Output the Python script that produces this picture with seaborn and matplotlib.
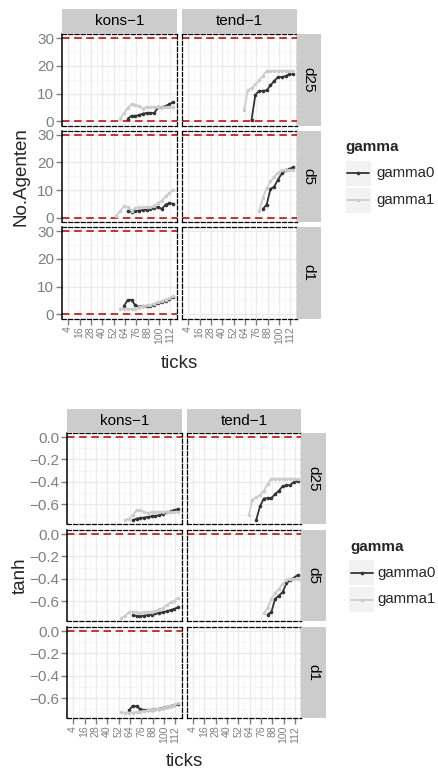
import numpy as np
import pandas as pd
import matplotlib
matplotlib.use('Agg')
import matplotlib.pyplot as plt
import seaborn as sns
from matplotlib.patches import Rectangle
from matplotlib.lines import Line2D

W, H = 438, 771
sns.set_theme(style='white')
plt.rcParams['font.family'] = ['Liberation Sans', 'DejaVu Sans']

# ---------------- data ----------------
TICKS = [55, 59, 63, 67, 71, 75, 79, 83, 87, 91, 95, 99, 103, 107, 111, 115]
N = None
COLS = ['kons\u22121', 'tend\u22121']
ROWS = ['d25', 'd5', 'd1']
GAMMAS = ['gamma0', 'gamma1']
XTICKS = [4, 16, 28, 40, 52, 64, 76, 88, 100, 112]

# No.Agenten
ag_kons_d25_g0 = [N, N, N, 1, 2, 2, 2.2, 2.8, 3, 3, 3, 5, 5, 5.5, 6.2, 7]
ag_kons_d25_g1 = [N, 1, 2.9, 4.9, 6.2, 6.0, 5.4, 4.6, 5.2, 5.1, 5.1, 5.0, 5.0, 5.0, 5.0, 5.0]
ag_tend_d25_g0 = [N, N, N, N, 0.5, 9.5, 11, 11, 11.2, 13, 14.6, 16, 16, 16.3, 17, 17]
ag_tend_d25_g1 = [N, N, 4, 11.2, 12, 13.3, 14.8, 16.5, 18.2, 18.2, 18.2, 18.2, 18.2, 18.2, 18.2, 18.2]
ag_kons_d5_g0 = [N, N, N, 2.4, 2.2, 2.4, 2.6, 2.8, 3.0, 3.2, 3.4, 4.0, 3.2, 4.8, 5.3, 5.1]
ag_kons_d5_g1 = [0.8, 2.5, 4.2, 4.0, 2.6, 3.4, 3.8, 3.8, 3.8, 3.8, 4.4, 5.4, 6.2, 7.8, 8.8, 10.2]
ag_tend_d5_g0 = [N, N, N, N, N, N, N, 3.2, 4.8, 10.4, 11.3, 13.8, 16.0, 17.1, 17.6, 18.3]
ag_tend_d5_g1 = [N, N, N, N, N, N, 2.3, 7.3, 10.7, 13.2, 14.8, 16.3, 17.1, 17.1, 17.1, 17.1]
ag_kons_d1_g0 = [N, N, 3, 5.2, 5.2, 3.2, 2.8, 3, 3, 3, 3.5, 4, 4.4, 4.8, 5.5, 6.3]
ag_kons_d1_g1 = [N, 2, 2, 2, 2, 2, 2.5, 2.9, 3.2, 3.5, 3.9, 4.3, 4.8, 5.3, 5.8, 6.5]

# tanh
th_kons_d25_g0 = [N, N, N, -0.745, -0.73, -0.725, -0.72, -0.715, -0.71, -0.705, -0.70, -0.685, -0.675, -0.665, -0.655, -0.642]
th_kons_d25_g1 = [N, -0.74, -0.73, -0.70, -0.655, -0.655, -0.67, -0.68, -0.67, -0.668, -0.668, -0.668, -0.668, -0.67, -0.672, -0.672]
th_tend_d25_g0 = [N, N, N, N, -0.74, -0.62, -0.55, -0.546, -0.546, -0.51, -0.48, -0.44, -0.433, -0.43, -0.40, -0.397]
th_tend_d25_g1 = [N, N, -0.70, -0.56, -0.54, -0.52, -0.48, -0.42, -0.373, -0.373, -0.373, -0.373, -0.373, -0.373, -0.373, -0.373]
th_kons_d5_g0 = [N, N, N, -0.72, -0.735, -0.735, -0.73, -0.725, -0.72, -0.71, -0.705, -0.70, -0.69, -0.68, -0.67, -0.655]
th_kons_d5_g1 = [-0.75, -0.73, -0.70, -0.695, -0.70, -0.705, -0.70, -0.695, -0.695, -0.69, -0.675, -0.66, -0.635, -0.61, -0.595, -0.575]
th_tend_d5_g0 = [N, N, N, N, N, N, N, -0.72, -0.70, -0.58, -0.55, -0.52, -0.44, -0.41, -0.39, -0.366]
th_tend_d5_g1 = [N, N, N, N, N, N, -0.71, -0.66, -0.58, -0.53, -0.49, -0.445, -0.41, -0.40, -0.40, -0.40]
th_kons_d1_g0 = [N, N, -0.71, -0.668, -0.674, -0.70, -0.705, -0.705, -0.704, -0.70, -0.695, -0.687, -0.68, -0.67, -0.662, -0.655]
th_kons_d1_g1 = [-0.725, -0.73, -0.73, -0.73, -0.725, -0.72, -0.715, -0.71, -0.705, -0.70, -0.695, -0.69, -0.68, -0.67, -0.66, -0.645]

AG_HLINES = [0, 30]
TH_HLINES = [0.0]

ag_panels = {
    (0, 0): (ag_kons_d25_g0, ag_kons_d25_g1), (0, 1): (ag_tend_d25_g0, ag_tend_d25_g1),
    (1, 0): (ag_kons_d5_g0, ag_kons_d5_g1), (1, 1): (ag_tend_d5_g0, ag_tend_d5_g1),
    (2, 0): (ag_kons_d1_g0, ag_kons_d1_g1), (2, 1): None,
}
th_panels = {
    (0, 0): (th_kons_d25_g0, th_kons_d25_g1), (0, 1): (th_tend_d25_g0, th_tend_d25_g1),
    (1, 0): (th_kons_d5_g0, th_kons_d5_g1), (1, 1): (th_tend_d5_g0, th_tend_d5_g1),
    (2, 0): (th_kons_d1_g0, th_kons_d1_g1), (2, 1): None,
}

PALETTE = {'gamma0': '#333333', 'gamma1': '#cccccc'}
GREY = '#7f7f7f'
RED = '#b81414'

fig = plt.figure(figsize=(W / 100, H / 100), dpi=100)


def ax_at(x0, y0, x1, y1, **kw):
    return fig.add_axes([x0 / W, 1 - y1 / H, (x1 - x0) / W, (y1 - y0) / H], **kw)


def strip(x0, y0, x1, y1, label, rot=0):
    sa = ax_at(x0, y0, x1, y1)
    sa.set_facecolor('#cccccc')
    for s in sa.spines.values():
        s.set_visible(False)
    sa.set_xticks([]); sa.set_yticks([])
    sa.text(0.5, 0.5, label, transform=sa.transAxes, ha='center', va='center',
            fontsize=11, rotation=rot, color='black')


def draw_facets(panels, cols_px, strip_y, rows_px, rstrip_x, ylim, yticks, yminor,
                yticklabels, hlines):
    for r, (y0, y1) in enumerate(rows_px):
        for c, (x0, x1) in enumerate(cols_px):
            ax = ax_at(x0, y0, x1, y1)
            ax.set_facecolor('white')
            ax.set_axisbelow(True)
            ax.set_xlim(-2.5, 118.5)
            ax.set_ylim(*ylim)
            ax.set_xticks(XTICKS)
            ax.set_xticks([10, 22, 34, 46, 58, 70, 82, 94, 106, 118], minor=True)
            ax.set_yticks(yticks)
            ax.set_yticks(yminor, minor=True)
            ax.grid(which='major', color='#ebebeb', lw=1.0)
            ax.grid(which='minor', color='#f5f5f5', lw=0.6)
            pdata = panels[(r, c)]
            if pdata is not None:
                recs = []
                for g, vals in zip(GAMMAS, pdata):
                    for x, v in zip(TICKS, vals):
                        if v is not None:
                            recs.append({'ticks': x, 'value': v, 'gamma': g})
                df = pd.DataFrame(recs)
                for hv in hlines:
                    ax.axhline(hv, color=RED, lw=1.2, ls=(0, (4.5, 2.8)), zorder=1.5)
                sns.lineplot(data=df, x='ticks', y='value', hue='gamma', hue_order=GAMMAS,
                             palette=PALETTE, marker='o', markersize=2.6,
                             markeredgewidth=0, linewidth=1.3, legend=False,
                             errorbar=None, ax=ax)
            ax.set_xlabel(''); ax.set_ylabel('')
            for s in ax.spines.values():
                s.set_visible(True)
                s.set_color('black')
                s.set_linewidth(0.9)
                s.set_linestyle((0, (3.2, 1.8)))
            if c == 0:
                ax.spines['left'].set_linestyle('-')
                ax.spines['left'].set_linewidth(1.1)
            ax.tick_params(axis='both', which='minor', length=0)
            ax.tick_params(axis='y', which='major', length=4, width=1, color=GREY,
                           labelsize=11, labelcolor=GREY, pad=1.5,
                           left=(c == 0), labelleft=(c == 0))
            if c == 0:
                ax.set_yticklabels(yticklabels)
            ax.tick_params(axis='x', which='major', length=4, width=1, color=GREY,
                           labelsize=7.6, labelcolor=GREY, pad=1.5,
                           bottom=(r == 2), labelbottom=(r == 2))
            if r == 2:
                ax.set_xticklabels([str(t) for t in XTICKS], rotation=90)
            if r == 0:
                strip(x0, strip_y[0], x1, strip_y[1], COLS[c])
        strip(rstrip_x[0], y0, rstrip_x[1], y1, ROWS[r], rot=-90)


# Top facet grid (No.Agenten)
draw_facets(ag_panels, [(62, 176.5), (182, 296.5)], (9, 33.5),
            [(34, 125.5), (130.5, 222), (227, 318.5)], (296.5, 321),
            (-1.5, 31.5), [0, 10, 20, 30], [5, 15, 25], ['0', '10', '20', '30'], AG_HLINES)

# Bottom facet grid (tanh)
draw_facets(th_panels, [(67, 181.5), (187, 301)], (409, 433),
            [(433, 524), (530, 621), (627, 718)], (301, 325.7),
            (-0.778, 0.037), [0.0, -0.2, -0.4, -0.6], [-0.1, -0.3, -0.5, -0.7],
            ['0.0', '\u22120.2', '\u22120.4', '\u22120.6'], TH_HLINES)

# overlay for titles and legends
ov = fig.add_axes([0, 0, 1, 1], facecolor='none')
ov.set_xlim(0, W); ov.set_ylim(H, 0); ov.axis('off')

ov.text(21.5, 176.5, 'No.Agenten', rotation=90, ha='center', va='center', fontsize=13.5)
ov.text(179, 368, 'ticks', ha='center', va='baseline', fontsize=13.5)
ov.text(20.5, 575.5, 'tanh', rotation=90, ha='center', va='center', fontsize=13.5)
ov.text(184, 766, 'ticks', ha='center', va='baseline', fontsize=13.5)


def legend(tx, ty, kx, k1y, lx):
    ov.text(tx, ty, 'gamma', fontweight='bold', fontsize=11, ha='left', va='center')
    for i, g in enumerate(GAMMAS):
        y0 = k1y + i * 27
        ov.add_patch(Rectangle((kx, y0), 25, 25, facecolor='#f2f2f2', edgecolor='none'))
        cy = y0 + 12.5
        ov.add_line(Line2D([kx + 1.5, kx + 23.5], [cy, cy], color=PALETTE[g], lw=1.3))
        ov.add_line(Line2D([kx + 12.5], [cy], color=PALETTE[g], marker='o',
                           markersize=2.6, markeredgewidth=0))
        ov.text(lx, cy, g, fontsize=10.8, ha='left', va='center')


legend(345.5, 147.5, 345.7, 160.5, 376)
legend(350, 547.5, 349, 560, 377.5)

fig.savefig('out.png', dpi=100)
